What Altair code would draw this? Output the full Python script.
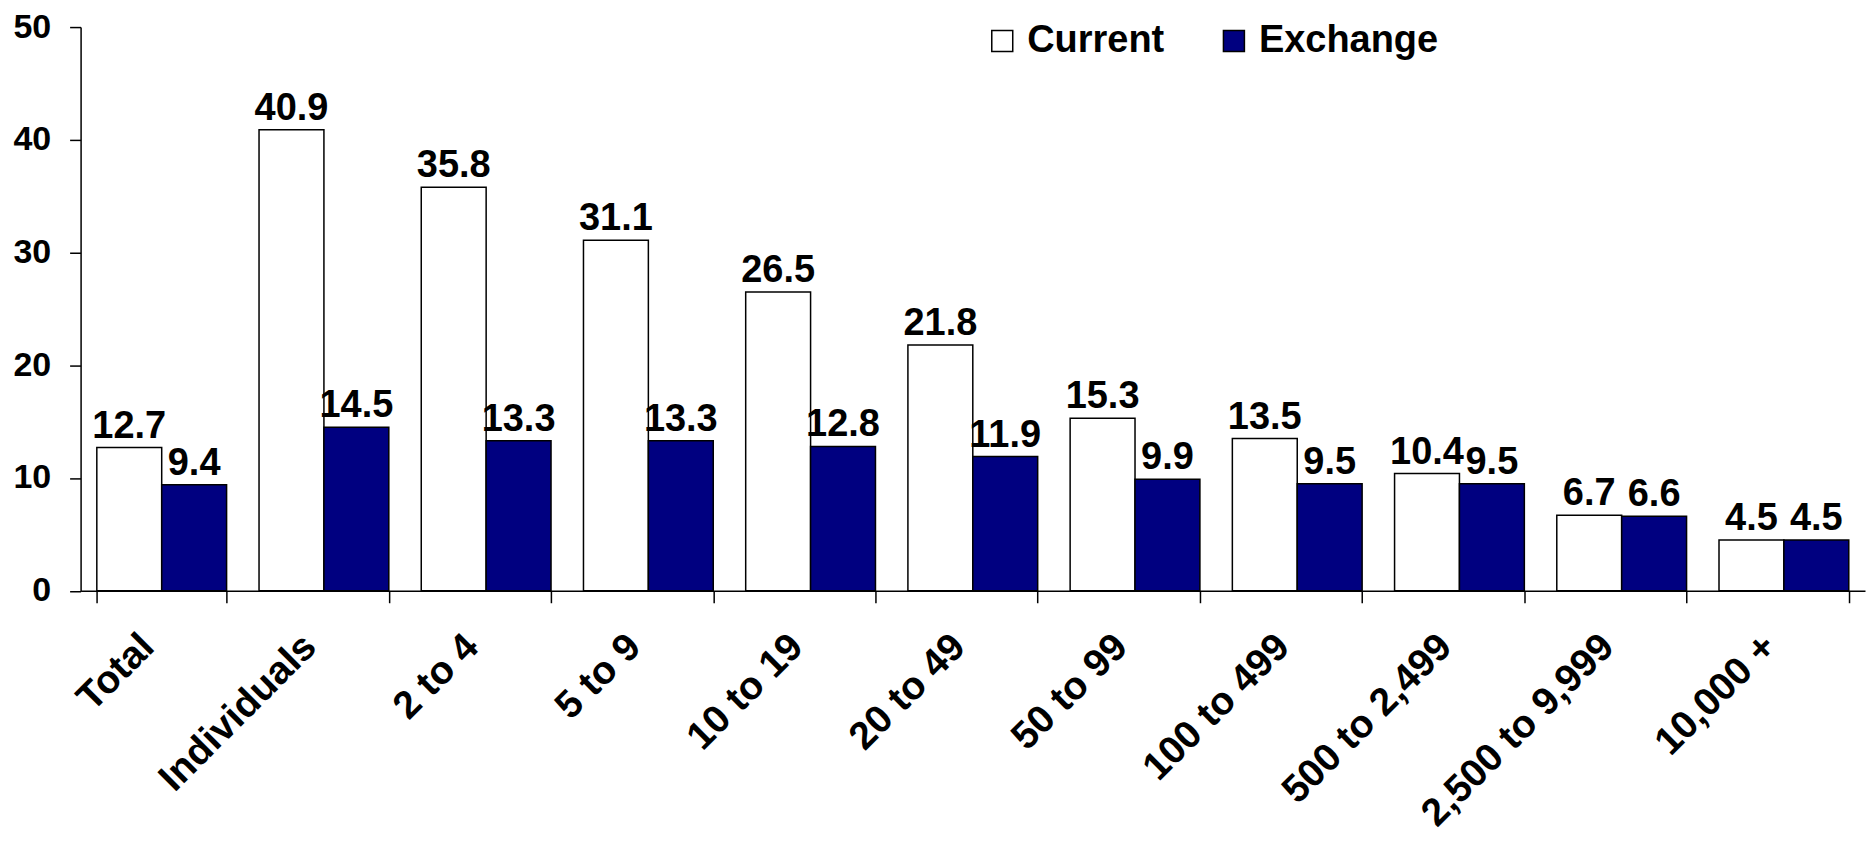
import altair as alt
import pandas as pd

categories = ["Total", "Individuals", "2 to 4", "5 to 9", "10 to 19", "20 to 49",
              "50 to 99", "100 to 499", "500 to 2,499", "2,500 to 9,999", "10,000 +"]
current = [12.7, 40.9, 35.8, 31.1, 26.5, 21.8, 15.3, 13.5, 10.4, 6.7, 4.5]
exchange = [9.4, 14.5, 13.3, 13.3, 12.8, 11.9, 9.9, 9.5, 9.5, 6.6, 4.5]
series = ["Current", "Exchange"]
colors = ["#FFFFFF", "#000080"]
y_ticks = [0, 10, 20, 30, 40, 50]

rows = []
for c, a, b in zip(categories, current, exchange):
    rows.append({"category": c, "series": series[0], "value": a})
    rows.append({"category": c, "series": series[1], "value": b})
df = pd.DataFrame(rows)

FONT = "Liberation Sans"

x_enc = alt.X(
    "category:N", sort=categories, title=None,
    scale=alt.Scale(paddingInner=0.2, paddingOuter=0.1),
    axis=alt.Axis(
        labelAngle=-45, labelAlign="right", labelBaseline="top",
        labelFont=FONT, labelFontWeight="bold", labelFontSize=39, labelColor="black",
        labelPadding=24, labelOffset=-28, labelOverlap=False, labelLimit=0,
        domainColor="black", domainWidth=1.5, tickColor="black", tickWidth=1.5,
        tickSize=12, tickBand="extent", grid=False,
    ),
)
xoff_enc = alt.XOffset("series:N", sort=series,
                       scale=alt.Scale(paddingInner=0, paddingOuter=0))
y_enc = alt.Y(
    "value:Q", title=None,
    scale=alt.Scale(domain=[0, 50], nice=False),
    axis=alt.Axis(
        values=y_ticks, labelFont=FONT, labelFontWeight="bold", labelFontSize=34,
        labelColor="black", labelPadding=19, tickSize=11, tickColor="black",
        tickWidth=1.5, domainColor="black", domainWidth=1.5, grid=False,
    ),
)

bars = alt.Chart(df).mark_bar(stroke="black", strokeWidth=1.5).encode(
    x=x_enc,
    xOffset=xoff_enc,
    y=y_enc,
    fill=alt.Fill(
        "series:N",
        scale=alt.Scale(domain=series, range=colors),
        legend=alt.Legend(
            title=None, orient="none", legendX=904, legendY=-5,
            direction="horizontal", symbolType="square", symbolSize=441,
            symbolStrokeColor="black", symbolStrokeWidth=1.5, symbolOpacity=1,
            labelFont=FONT, labelFontWeight="bold", labelFontSize=38,
            labelColor="black", labelOffset=6, columnPadding=50, padding=0,
            labelLimit=0,
        ),
    ),
)

labels = alt.Chart(df).mark_text(
    dy=-10, baseline="alphabetic", align="center",
    font=FONT, fontWeight="bold", fontSize=38, color="black",
).encode(
    x=alt.X("category:N", sort=categories),
    xOffset=xoff_enc,
    y=alt.Y("value:Q"),
    text=alt.Text("value:Q", format=".1f"),
)

chart = alt.layer(bars, labels).properties(
    width=1787, height=564.5,
    autosize=alt.AutoSizeParams(type="none"),
    padding={"left": 72.7, "top": 18.5, "right": 2, "bottom": 238},
).configure_view(stroke=None)

chart.save("out.html", embed_options={"renderer": "svg", "actions": False})
